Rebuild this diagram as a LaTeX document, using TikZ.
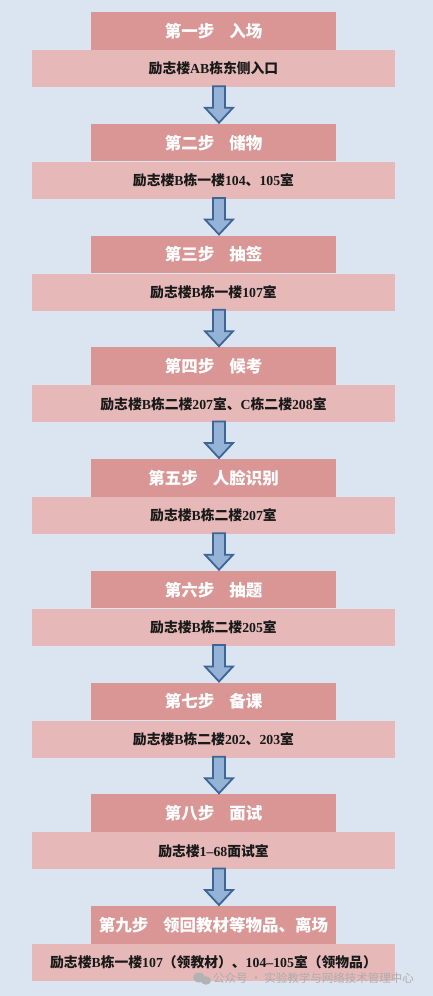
\documentclass[tikz,border=0pt]{standalone}
\usepackage{fontspec}
\setmainfont{Liberation Serif}
\newfontfamily\cjk{Noto Sans CJK SC}
\usetikzlibrary{calc}
\definecolor{bgc}{HTML}{DBE5F1}
\definecolor{headc}{HTML}{D99694}
\definecolor{bodyc}{HTML}{E6B9B8}
\definecolor{arrfill}{HTML}{95B3D7}
\definecolor{arrline}{HTML}{3D6596}
\newcommand\C[1]{{\cjk #1}}
\tikzset{
  head/.style={rectangle, fill=headc, minimum width=245pt, minimum height=37.5pt, inner sep=0pt, anchor=north,
    text=white, font=\bfseries\fontsize{16.5pt}{18pt}\selectfont},
  body/.style={rectangle, fill=bodyc, minimum width=363pt, minimum height=37pt, inner sep=0pt, anchor=north,
    text=black!90, font=\bfseries\fontsize{13.8pt}{16pt}\selectfont},
  arr/.style={fill=arrfill, draw=arrline, line width=1.8pt, line join=miter},
  wm/.style={text=black!32, font=\cjk\fontsize{11.5pt}{13pt}\selectfont, inner sep=0pt, anchor=west}
}
\newcommand\blockarr[2]{\draw[arr] let \p1=(#1.south), \p2=(#2.north) in
  (\x1-0.5pt,\y1+1pt) -- (\x1+11.5pt,\y1+1pt) -- (\x1+11.5pt,\y2+16pt) -- (\x1+19.5pt,\y2+16pt)
  -- (\x1+5.5pt,\y2+1pt) -- (\x1-8.5pt,\y2+16pt) -- (\x1-0.5pt,\y2+16pt) -- cycle;}
\newcommand\hgap{\hspace{15pt}}
\begin{document}
\begin{tikzpicture}[x=1pt,y=-1pt]
\fill[bgc] (0,0) rectangle (433,996);
\useasboundingbox (0,0) rectangle (433,996);
\foreach \i/\htxt/\btxt in {
 1/{\C{第一步}\hgap\C{入场}}/{\C{励志楼}AB\C{栋东侧入口}},
 2/{\C{第二步}\hgap\C{储物}}/{\C{励志楼}B\C{栋一楼}104\C{、}105\C{室}},
 3/{\C{第三步}\hgap\C{抽签}}/{\C{励志楼}B\C{栋一楼}107\C{室}},
 4/{\C{第四步}\hgap\C{候考}}/{\C{励志楼}B\C{栋二楼}207\C{室、}C\C{栋二楼}208\C{室}},
 5/{\C{第五步}\hgap\C{人脸识别}}/{\C{励志楼}B\C{栋二楼}207\C{室}},
 6/{\C{第六步}\hgap\C{抽题}}/{\C{励志楼}B\C{栋二楼}205\C{室}},
 7/{\C{第七步}\hgap\C{备课}}/{\C{励志楼}B\C{栋二楼}202\C{、}203\C{室}},
 8/{\C{第八步}\hgap\C{面试}}/{\C{励志楼}1--68\C{面试室}},
 9/{\C{第九步}\hgap\C{领回教材等物品、离场}}/{\C{励志楼}B\C{栋一楼}107\C{（领教材）、}104--105\C{室（领物品）}}}
{
  \pgfmathsetmacro\yy{12+111.75*(\i-1)}
  \node[head] (h\i) at (213.5,\yy) {\htxt};
  \node[body] (b\i) at (h\i.south) {\btxt};
}
\foreach \i [evaluate=\i as \j using int(\i+1)] in {1,...,8} {
  \blockarr{b\i}{h\j}
}
% watermark
\node[wm] (wmtext) at (213,978.5) {公众号 · 实验教学与网络技术管理中心};
\fill[black!30] (199,977.5) ellipse (6pt and 5pt);
\fill[black!30] (206,980.5) ellipse (5pt and 4.2pt);
\end{tikzpicture}
\end{document}
